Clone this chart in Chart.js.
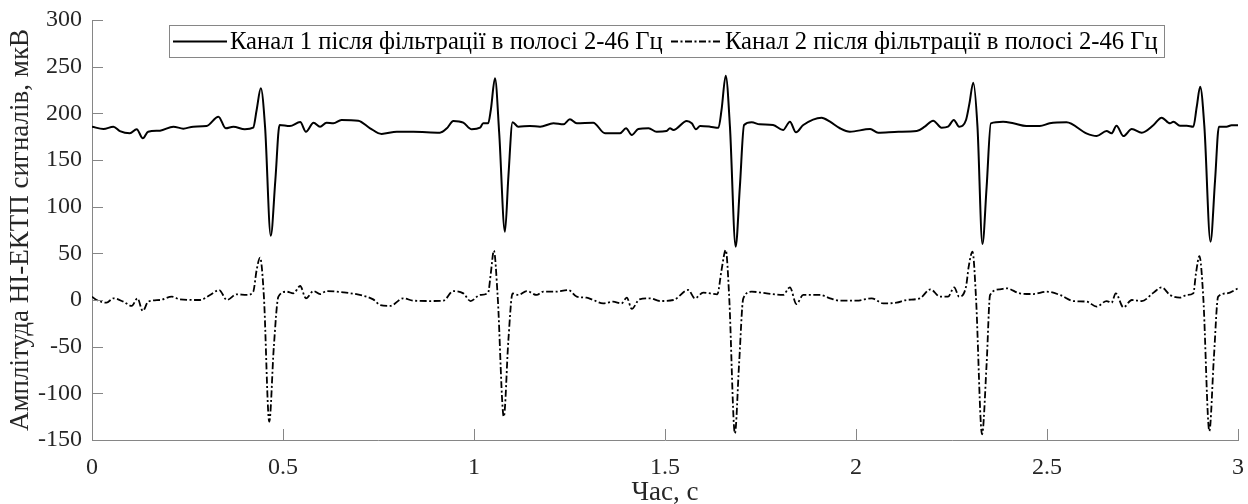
<!DOCTYPE html>
<html>
<head>
<meta charset="utf-8">
<script src="https://cdn.jsdelivr.net/npm/chart.js@4/dist/chart.umd.min.js"></script>
<style>
  html, body { margin: 0; padding: 0; background: #fff; }
  #wrap { width: 1248px; height: 504px; position: relative; }
  #fontprobe { position: absolute; left: -9999px; top: 0; font-family: "Liberation Serif"; font-size: 24px; }
</style>
</head>
<body>
<div id="wrap"><canvas id="ecg" width="1248" height="504"></canvas></div>
<span id="fontprobe">Канал 0123456789</span>
<script>
// Channel 1 after 2-46 Hz band-pass filtering: time (s) and amplitude (µV)
const ch1Time = [
  0.000, 0.030, 0.056, 0.073, 0.099, 0.117, 0.133, 0.147, 0.178, 0.213, 0.239, 0.265, 0.300, 0.331, 0.350, 0.370,
  0.400, 0.422, 0.431, 0.442, 0.453, 0.468, 0.480, 0.491, 0.518, 0.545, 0.560, 0.580, 0.597, 0.614, 0.632, 0.653,
  0.697, 0.728, 0.758, 0.798, 0.841, 0.911, 0.929, 0.946, 0.972, 0.994, 1.016, 1.024, 1.037, 1.044, 1.055, 1.066,
  1.081, 1.090, 1.101, 1.116, 1.146, 1.173, 1.208, 1.234, 1.251, 1.269, 1.312, 1.343, 1.382, 1.398, 1.413, 1.430,
  1.457, 1.478, 1.504, 1.513, 1.522, 1.557, 1.570, 1.581, 1.592, 1.618, 1.640, 1.648, 1.659, 1.670, 1.685, 1.696,
  1.707, 1.727, 1.748, 1.783, 1.809, 1.827, 1.843, 1.862, 1.910, 1.932, 1.958, 1.984, 2.037, 2.058, 2.111, 2.159,
  2.180, 2.202, 2.224, 2.241, 2.256, 2.270, 2.288, 2.297, 2.307, 2.318, 2.331, 2.342, 2.353, 2.385, 2.412, 2.446,
  2.481, 2.507, 2.551, 2.603, 2.630, 2.656, 2.669, 2.682, 2.700, 2.722, 2.748, 2.779, 2.800, 2.822, 2.831, 2.848,
  2.866, 2.883, 2.892, 2.901, 2.912, 2.928, 2.940, 2.950, 2.970, 2.983, 3.000
];
const ch1Value = [
  185.7, 183.2, 185.7, 181.0, 178.6, 183.0, 173.2, 180.3, 181.4, 185.7, 183.6, 185.7, 186.4, 196.4, 184.0, 185.7,
  182.9, 184.6, 203.6, 226.8, 185.7, 68.9, 128.6, 187.5, 186.4, 190.7, 180.3, 190.0, 185.7, 190.0, 189.3, 192.9,
  192.1, 184.0, 177.9, 180.3, 180.3, 179.3, 184.0, 191.8, 190.0, 182.9, 184.6, 189.3, 189.3, 203.6, 237.5, 178.6,
  73.2, 132.1, 190.4, 185.7, 186.4, 185.7, 189.3, 188.2, 193.6, 189.3, 190.0, 178.6, 178.6, 184.0, 176.8, 183.2,
  184.0, 180.3, 181.0, 184.0, 182.1, 191.8, 189.3, 182.9, 186.4, 185.7, 184.6, 203.6, 240.4, 185.7, 57.1, 121.4,
  187.5, 190.4, 188.2, 187.5, 182.1, 191.0, 179.6, 187.5, 195.4, 191.0, 184.0, 180.3, 183.2, 179.3, 180.3, 181.0,
  185.7, 192.1, 184.6, 185.7, 192.9, 185.7, 192.9, 210.7, 232.9, 185.7, 60.0, 121.4, 189.3, 191.0, 189.3, 186.4,
  186.4, 189.3, 190.4, 178.6, 175.7, 181.0, 178.6, 186.8, 175.7, 183.2, 179.3, 187.5, 195.4, 189.3, 191.0, 186.8,
  186.8, 185.7, 207.1, 228.6, 185.7, 62.5, 128.6, 185.7, 185.7, 187.1, 187.1
];

// Channel 2 after 2-46 Hz band-pass filtering: time (s) and amplitude (µV)
const ch2Time = [
  0.000, 0.012, 0.038, 0.056, 0.082, 0.104, 0.119, 0.133, 0.147, 0.178, 0.209, 0.230, 0.283, 0.309, 0.333, 0.353,
  0.379, 0.405, 0.422, 0.431, 0.440, 0.450, 0.464, 0.476, 0.488, 0.510, 0.527, 0.545, 0.560, 0.580, 0.597, 0.614,
  0.658, 0.701, 0.736, 0.754, 0.780, 0.815, 0.841, 0.885, 0.920, 0.946, 0.972, 0.991, 1.016, 1.037, 1.044, 1.052,
  1.062, 1.078, 1.090, 1.101, 1.116, 1.138, 1.164, 1.181, 1.212, 1.247, 1.269, 1.295, 1.312, 1.338, 1.364, 1.386,
  1.400, 1.413, 1.433, 1.461, 1.487, 1.522, 1.561, 1.578, 1.600, 1.637, 1.648, 1.659, 1.668, 1.683, 1.694, 1.705,
  1.727, 1.766, 1.809, 1.827, 1.844, 1.862, 1.905, 1.932, 1.958, 2.002, 2.041, 2.071, 2.106, 2.132, 2.167, 2.195,
  2.220, 2.241, 2.257, 2.270, 2.288, 2.295, 2.305, 2.314, 2.330, 2.342, 2.351, 2.377, 2.394, 2.429, 2.464, 2.499,
  2.534, 2.569, 2.604, 2.630, 2.656, 2.669, 2.680, 2.700, 2.722, 2.748, 2.779, 2.800, 2.822, 2.848, 2.866, 2.883,
  2.890, 2.899, 2.909, 2.925, 2.937, 2.948, 2.970, 3.000
];
const ch2Value = [
  3.6, 0.0, -2.9, 1.8, -1.8, -6.4, 1.8, -11.8, -1.8, 0.0, 3.6, 0.7, 0.0, 5.4, 10.7, 0.0,
  6.1, 5.4, 8.9, 32.1, 45.4, 3.6, -130.4, -50.0, 3.6, 8.9, 7.1, 15.0, 1.8, 9.6, 6.4, 9.6,
  8.2, 5.4, 0.7, -5.4, -6.4, 1.8, -0.7, -1.1, -0.7, 9.6, 7.1, -1.1, 5.4, 7.9, 28.6, 52.9,
  3.6, -125.0, -42.9, 7.1, 5.4, 9.6, 5.4, 8.9, 8.9, 10.7, 3.6, 2.5, 0.0, -3.6, -1.8, -3.6,
  2.5, -9.6, 0.7, 1.8, -1.1, 0.0, 10.7, 1.8, 7.9, 6.1, 32.1, 53.6, 3.6, -142.9, -67.9, 1.8,
  8.9, 7.1, 5.4, 13.6, -4.3, 5.4, 5.4, 1.8, -0.7, -0.7, 1.8, -3.6, -2.9, 0.0, 1.8, 11.4,
  3.6, 3.6, 13.6, 3.6, 14.3, 35.7, 51.8, 3.6, -143.9, -67.9, 5.4, 11.4, 12.5, 7.1, 6.4, 8.9,
  5.4, -1.1, -1.8, -7.1, -1.1, -2.9, 7.1, -7.9, 0.0, -1.1, 7.9, 13.6, 5.4, 2.5, 5.4, 7.1,
  28.6, 47.1, 3.6, -140.4, -60.7, 3.6, 7.1, 12.5
];

// Axis ticks
const xTicks = [0, 0.5, 1, 1.5, 2, 2.5, 3];
const yTicks = [-150, -100, -50, 0, 50, 100, 150, 200, 250, 300];

const seriesNames = [
  'Канал 1 після фільтрації в полосі 2-46 Гц',
  'Канал 2 після фільтрації в полосі 2-46 Гц'
];
const xTitle = 'Час, с';
const yTitle = 'Амплітуда НІ-ЕКТП сигналів, мкВ';

const FONT = "'Liberation Serif', 'Times New Roman', serif";
const AXIS_GRAY = '#868686';
const TEXT_COLOR = '#262626';
const DASH_DOT = [7, 2.5, 2, 2.5];

const toPoints = (ts, vs) => ts.map((t, i) => ({ x: t, y: vs[i] }));

// Inward tick marks on the x and y axes
const innerTicks = {
  id: 'innerTicks',
  afterDraw(chart) {
    const { ctx, chartArea: a, scales: { x, y } } = chart;
    const len = 11;
    ctx.save();
    ctx.strokeStyle = AXIS_GRAY;
    ctx.lineWidth = 1;
    ctx.beginPath();
    xTicks.forEach(v => {
      const px = Math.round(x.getPixelForValue(v)) + 0.5;
      ctx.moveTo(px, a.bottom);
      ctx.lineTo(px, a.bottom - len);
    });
    yTicks.forEach(v => {
      const py = Math.round(y.getPixelForValue(v)) + 0.5;
      ctx.moveTo(a.left, py);
      ctx.lineTo(a.left + len, py);
    });
    ctx.stroke();
    ctx.restore();
  }
};

// Boxed single-row legend in the upper part of the plot
const boxLegend = {
  id: 'boxLegend',
  afterDraw(chart) {
    const { ctx } = chart;
    const box = { left: 169, top: 25, right: 1165, bottom: 58 };
    const cy = (box.top + box.bottom) / 2;
    ctx.save();
    ctx.fillStyle = '#fff';
    ctx.fillRect(box.left, box.top, box.right - box.left, box.bottom - box.top);
    ctx.strokeStyle = AXIS_GRAY;
    ctx.lineWidth = 1;
    ctx.strokeRect(box.left + 0.5, box.top + 0.5, box.right - box.left - 1, box.bottom - box.top - 1);

    // fit the label size to the space each entry has
    let size = 24;
    ctx.font = size + 'px ' + FONT;
    const w0 = ctx.measureText(seriesNames[0]).width;
    size = Math.min(27, size * 433 / w0);
    ctx.font = size + 'px ' + FONT;

    const entries = [
      { x0: 173, x1: 227, tx: 230, ds: chart.data.datasets[0] },
      { x0: 671, x1: 721, tx: 725, ds: chart.data.datasets[1] }
    ];
    entries.forEach((e, i) => {
      ctx.strokeStyle = e.ds.borderColor;
      ctx.lineWidth = e.ds.borderWidth;
      ctx.setLineDash(e.ds.borderDash || []);
      ctx.beginPath();
      ctx.moveTo(e.x0, cy);
      ctx.lineTo(e.x1, cy);
      ctx.stroke();
      ctx.setLineDash([]);
      ctx.fillStyle = '#000';
      ctx.textAlign = 'left';
      ctx.textBaseline = 'middle';
      ctx.fillText(seriesNames[i], e.tx, cy + 1);
    });
    ctx.restore();
  }
};

function drawChart() {
  new Chart(document.getElementById('ecg'), {
    type: 'line',
    data: {
      datasets: [
        {
          label: seriesNames[0],
          data: toPoints(ch1Time, ch1Value),
          borderColor: '#000',
          borderWidth: 2,
          pointRadius: 0,
          cubicInterpolationMode: 'monotone',
          fill: false
        },
        {
          label: seriesNames[1],
          data: toPoints(ch2Time, ch2Value),
          borderColor: '#000',
          borderWidth: 1.8,
          borderDash: DASH_DOT,
          pointRadius: 0,
          cubicInterpolationMode: 'monotone',
          fill: false
        }
      ]
    },
    options: {
      responsive: false,
      animation: false,
      layout: { padding: { left: 0, right: 10, top: 20, bottom: 0 } },
      plugins: {
        legend: { display: false },
        tooltip: { enabled: false },
        title: { display: false }
      },
      scales: {
        x: {
          type: 'linear',
          min: 0,
          max: 3,
          afterFit(scale) {
            scale.height = 64;
            scale.paddingLeft = 0;
            scale.paddingRight = 0;
          },
          afterBuildTicks(scale) { scale.ticks = xTicks.map(v => ({ value: v })); },
          ticks: {
            autoSkip: false,
            maxRotation: 0,
            padding: 13,
            color: TEXT_COLOR,
            font: { family: FONT, size: 24 },
            callback: v => String(v)
          },
          grid: { display: true, drawOnChartArea: false, drawTicks: false, color: AXIS_GRAY },
          border: { display: true, color: AXIS_GRAY, width: 1 },
          title: {
            display: true,
            text: xTitle,
            color: TEXT_COLOR,
            font: { family: FONT, size: 27, lineHeight: 1 },
            padding: { top: 0, bottom: -2 }
          }
        },
        y: {
          type: 'linear',
          min: -150,
          max: 300,
          afterFit(scale) {
            scale.width = 92;
            scale.paddingTop = 0;
            scale.paddingBottom = 0;
          },
          afterBuildTicks(scale) { scale.ticks = yTicks.map(v => ({ value: v })); },
          ticks: {
            autoSkip: false,
            padding: 10,
            color: TEXT_COLOR,
            font: { family: FONT, size: 24 },
            callback: v => String(v)
          },
          grid: { display: true, drawOnChartArea: false, drawTicks: false, color: AXIS_GRAY },
          border: { display: true, color: AXIS_GRAY, width: 1 },
          title: {
            display: true,
            text: yTitle,
            color: TEXT_COLOR,
            font: { family: FONT, size: 27, lineHeight: 1 },
            padding: { top: 7, bottom: 0 }
          }
        }
      }
    },
    plugins: [innerTicks, boxLegend]
  });
}

const fontReady = document.fonts && document.fonts.load
  ? Promise.all([
      document.fonts.load("24px 'Liberation Serif'", 'Канал 0123'),
      document.fonts.load("24px 'Liberation Serif'")
    ]).catch(() => null)
  : Promise.resolve();
fontReady.then(drawChart);
</script>
</body>
</html>
